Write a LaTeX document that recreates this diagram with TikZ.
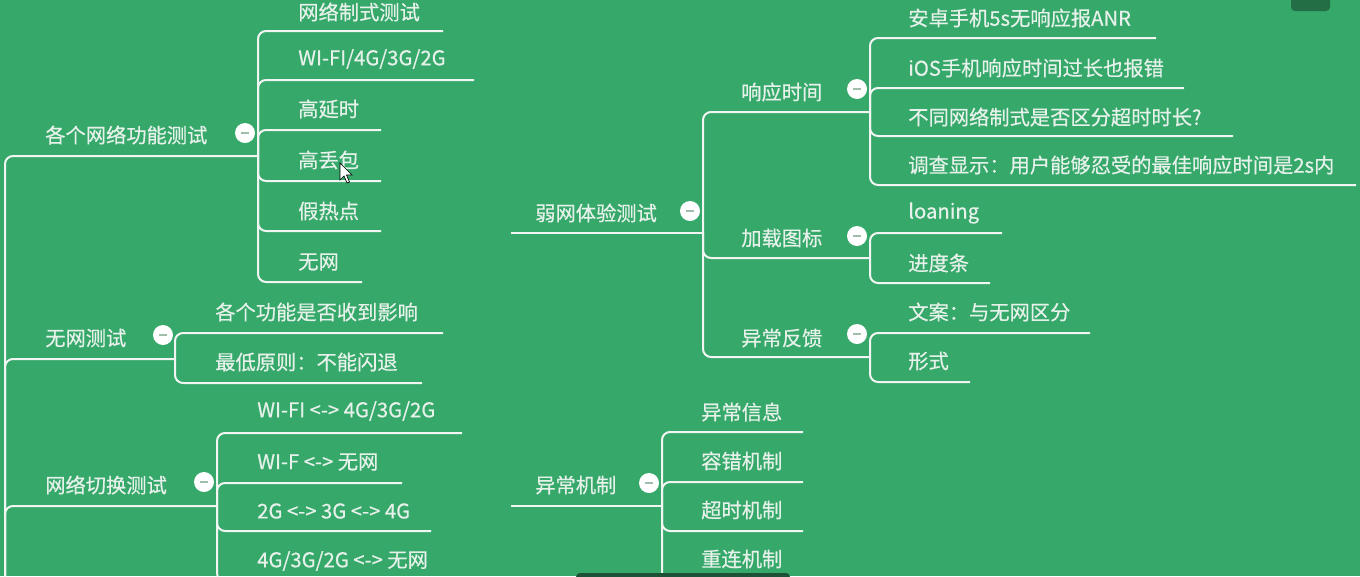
\documentclass[tikz,border=0pt]{standalone}
\usepackage{fontspec}
\newfontfamily\cjk[FakeBold=0.5]{Noto Sans CJK SC}
\definecolor{bgc}{HTML}{35A86A}
\definecolor{linec}{HTML}{F2F6F3}
\definecolor{txtc}{HTML}{E6F1EA}
\definecolor{minusc}{HTML}{9FBFAC}
\definecolor{darkc}{HTML}{246E45}
\definecolor{barc}{HTML}{1E5236}
\tikzset{
  conn/.style={draw=linec, line width=1.5pt, rounded corners=6pt},
  lbl/.style={anchor=west, text=txtc, font=\cjk\fontsize{15.2}{18}\selectfont, inner sep=0pt},
  fold/.style={circle, fill=white, minimum size=15pt, inner sep=0pt,
    path picture={\draw[minusc, line width=0.9pt] ([xshift=-3.2pt]path picture bounding box.center) -- ([xshift=3.2pt]path picture bounding box.center);}},
}
\begin{document}
\begin{tikzpicture}[x=0.75pt,y=-0.75pt]
\useasboundingbox (0,0) rectangle (1360,576);
\clip (0,0) rectangle (1360,576);
\fill[bgc] (0,0) rectangle (1360,576);

% ---------------- left root ----------------
\coordinate (root) at (5,700);

% group 1
\coordinate (j1) at (258,156);
\draw[conn] (root) |- (j1);
\node[lbl] (g1) at (45,135) {各个网络功能测试};
\node[fold] (f1) at (245,133) {};
\coordinate (e11) at (443,31);  \draw[conn] (j1) |- (e11);
\coordinate (e12) at (474,80);  \draw[conn] (j1) |- (e12);
\coordinate (e13) at (381,130); \draw[conn] (j1) |- (e13);
\coordinate (e14) at (381,181); \draw[conn] (j1) |- (e14);
\coordinate (e15) at (381,231); \draw[conn] (j1) |- (e15);
\coordinate (e16) at (362,282); \draw[conn] (j1) |- (e16);
\node[lbl] (t11) at (298,12)  {网络制式测试};
\node[lbl] (t12) at (298,59)  {WI-FI/4G/3G/2G};
\node[lbl] (t13) at (298,109) {高延时};
\node[lbl] (t14) at (298,160) {高丢包};
\node[lbl] (t15) at (298,211) {假热点};
\node[lbl] (t16) at (298,262) {无网};

% group 2
\coordinate (j2) at (175,359);
\draw[conn] (root) |- (j2);
\node[lbl] (g2) at (45,338) {无网测试};
\node[fold] (f2) at (163,335) {};
\coordinate (e21) at (443,333); \draw[conn] (j2) |- (e21);
\coordinate (e22) at (422,383); \draw[conn] (j2) |- (e22);
\node[lbl] (t21) at (215,312) {各个功能是否收到影响};
\node[lbl] (t22) at (215,362) {最低原则：不能闪退};

% group 3
\coordinate (j3) at (217,506);
\draw[conn] (root) |- (j3);
\node[lbl] (g3) at (45,485) {网络切换测试};
\node[fold] (f3) at (204,482) {};
\coordinate (e31) at (462,433); \draw[conn] (j3) |- (e31);
\coordinate (e32) at (402,483); \draw[conn] (j3) |- (e32);
\coordinate (e33) at (431,531); \draw[conn] (j3) |- (e33);
\coordinate (e34) at (470,581); \draw[conn] (j3) |- (e34);
\node[lbl] (t31) at (257,411) {WI-FI <-> 4G/3G/2G};
\node[lbl] (t32) at (257,462) {WI-F <-> 无网};
\node[lbl] (t33) at (257,511) {2G <-> 3G <-> 4G};
\node[lbl] (t34) at (257,561) {4G/3G/2G <-> 无网};

% ---------------- right: 弱网体验测试 ----------------
\coordinate (s4) at (511,233);
\coordinate (j4) at (703,233);
\draw[conn] (s4) -- (j4);
\node[lbl] (g4) at (535,213) {弱网体验测试};
\node[fold] (f4) at (690,211) {};

\coordinate (j41) at (870,112);
\coordinate (j42) at (870,258);
\coordinate (j43) at (870,357);
\draw[conn] (j4) |- (j41);
\draw[conn] (j4) |- (j42);
\draw[conn] (j4) |- (j43);
\node[lbl] (g41) at (741,92)  {响应时间};
\node[lbl] (g42) at (741,238) {加载图标};
\node[lbl] (g43) at (741,338) {异常反馈};
\node[fold] (f41) at (857,89) {};
\node[fold] (f42) at (857,236) {};
\node[fold] (f43) at (857,334) {};

\coordinate (e411) at (1156,38);  \draw[conn] (j41) |- (e411);
\coordinate (e412) at (1184,88);  \draw[conn] (j41) |- (e412);
\coordinate (e413) at (1233,136); \draw[conn] (j41) |- (e413);
\coordinate (e414) at (1356,185); \draw[conn] (j41) |- (e414);
\node[lbl] (t411) at (908,18)  {安卓手机5s无响应报ANR};
\node[lbl] (t412) at (908,68)  {iOS手机响应时间过长也报错};
\node[lbl] (t413) at (908,117) {不同网络制式是否区分超时时长?};
\node[lbl] (t414) at (908,165) {调查显示：用户能够忍受的最佳响应时间是2s内};

\coordinate (e421) at (1002,233); \draw[conn] (j42) |- (e421);
\coordinate (e422) at (990,283);  \draw[conn] (j42) |- (e422);
\node[lbl] (t421) at (908,213) {loaning};
\node[lbl] (t422) at (908,263) {进度条};

\coordinate (e431) at (1090,333); \draw[conn] (j43) |- (e431);
\coordinate (e432) at (970,382);  \draw[conn] (j43) |- (e432);
\node[lbl] (t431) at (908,312) {文案：与无网区分};
\node[lbl] (t432) at (908,361) {形式};

% ---------------- right: 异常机制 ----------------
\coordinate (s5) at (511,506);
\coordinate (j5) at (662,506);
\draw[conn] (s5) -- (j5);
\node[lbl] (g5) at (535,485) {异常机制};
\node[fold] (f5) at (649,483) {};
\coordinate (e51) at (803,432); \draw[conn] (j5) |- (e51);
\coordinate (e52) at (803,482); \draw[conn] (j5) |- (e52);
\coordinate (e53) at (803,531); \draw[conn] (j5) |- (e53);
\coordinate (e54) at (803,580); \draw[conn] (j5) |- (e54);
\node[lbl] (t51) at (701,412) {异常信息};
\node[lbl] (t52) at (701,461) {容错机制};
\node[lbl] (t53) at (701,510) {超时机制};
\node[lbl] (t54) at (701,559) {重连机制};

% ---------------- screen artefacts ----------------
\fill[darkc, rounded corners=3pt] (1291,-6) rectangle (1330,11);
\fill[barc, rounded corners=3pt] (576,573) rectangle (790,582);
\filldraw[fill=white, draw=black, line width=0.5pt]
  (340,163) -- (340,180) -- (344,176) -- (347,183) -- (349.5,182) -- (346.5,175) -- (352,175) -- cycle;
\end{tikzpicture}
\end{document}
